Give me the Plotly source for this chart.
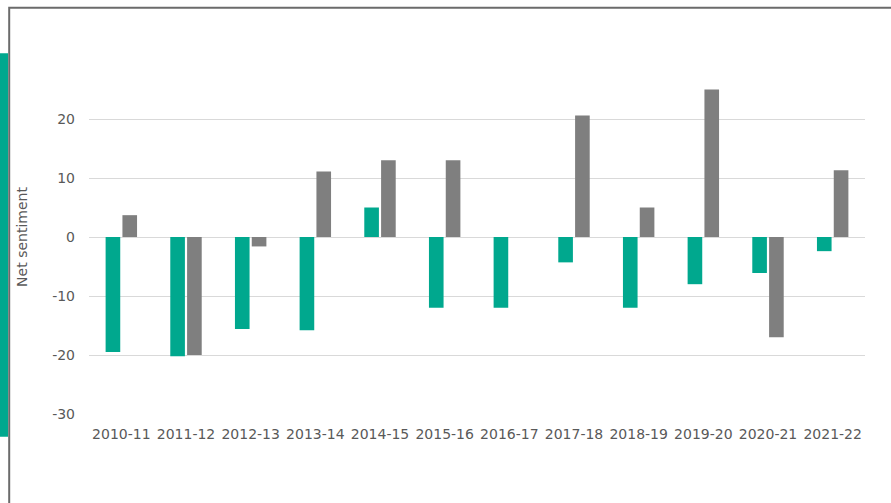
import plotly.graph_objects as go

categories = ["2010-11", "2011-12", "2012-13", "2013-14", "2014-15", "2015-16",
              "2016-17", "2017-18", "2018-19", "2019-20", "2020-21", "2021-22"]
series_teal = [-19.5, -20.2, -15.6, -15.8, 5.0, -12.0, -12.0, -4.3, -12.0, -8.0, -6.1, -2.4]
series_gray = [3.7, -20.0, -1.6, 11.1, 13.0, 13.0, 0.0, 20.6, 5.0, 25.0, -17.0, 11.3]
y_ticks = [-30, -20, -10, 0, 10, 20]
y_tick_labels = [str(v) for v in y_ticks]

W, H = 891, 503
L, R, T, B = 89, 26, 59.5, 89
pw, ph = W - L - R, H - T - B

def px_x(x):
    return (x - L) / pw

def px_y(y):
    return (H - B - y) / ph

fig = go.Figure()
fig.add_trace(go.Bar(x=categories, y=series_teal, marker_color="#00A88E",
                     marker_line_width=0, name="A"))
fig.add_trace(go.Bar(x=categories, y=series_gray, marker_color="#7F7F7F",
                     marker_line_width=0, name="B"))

font = "DejaVu Sans"
txt = "#595959"
fig.update_layout(
    width=W, height=H,
    margin=dict(l=L, r=R, t=T, b=B, autoexpand=False),
    paper_bgcolor="white", plot_bgcolor="white",
    barmode="group", bargap=0.48, bargroupgap=0.13,
    showlegend=False,
    font=dict(family=font, size=14, color=txt),
    shapes=[
        dict(type="rect", xref="paper", yref="paper",
             x0=px_x(9.2), x1=px_x(905), y0=px_y(520), y1=px_y(7.3),
             line=dict(color="#6b6b6b", width=2), fillcolor="rgba(0,0,0,0)", layer="below"),
        dict(type="rect", xref="paper", yref="paper",
             x0=px_x(-2), x1=px_x(8), y0=px_y(436.7), y1=px_y(52.7),
             line=dict(width=0), fillcolor="#00A88E", layer="below"),
    ],
)
fig.update_xaxes(type="category", showgrid=False, showline=False, zeroline=False, ticks="",
                 ticklabelstandoff=10, tickfont=dict(size=14, color=txt))
fig.update_yaxes(range=[-30, 30], tickvals=y_ticks, ticktext=y_tick_labels, showgrid=True,
                 gridcolor="#D9D9D9", gridwidth=1, zeroline=True,
                 zerolinecolor="#D9D9D9", zerolinewidth=1, showline=False,
                 ticks="", ticklabelstandoff=13,
                 tickfont=dict(size=14, color=txt),
                 title=dict(text="Net sentiment", standoff=21,
                            font=dict(size=14, color=txt)))

fig.write_html("out.html", config={"displayModeBar": False},
               post_script="document.body.style.margin='0';")
